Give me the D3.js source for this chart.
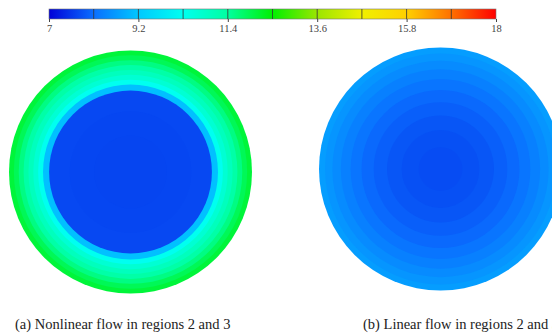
<!DOCTYPE html>
<html>
<head>
<meta charset="utf-8">
<script src="https://cdn.jsdelivr.net/npm/d3@7"></script>
<style>
  body { margin: 0; background: #fff; }
  svg { display: block; }
</style>
</head>
<body>
<div id="chart"></div>
<script>
// colour map of the legend (jet-like, 10 steps)
const colorStops = [7, 8.1, 9.2, 10.3, 11.4, 12.5, 13.6, 14.7, 15.8, 16.9, 18];
const colorValues = ["#0000d8", "#0a6eff", "#00c8ff", "#00fff0", "#00ffa0", "#00f000",
                     "#9be600", "#f0f000", "#ffd000", "#ff7000", "#ff0000"];
const tickLabels = [7, 9.2, 11.4, 13.6, 15.8, 18];

// radial bands: outer radius (fraction of circle radius) and value
const leftBandOuter = [1.00, 0.96, 0.92, 0.88, 0.84, 0.80, 0.76, 0.72, 0.67, 0.50, 0.30];
const leftBandValue = [12.1, 11.9, 11.6, 11.3, 11.0, 10.7, 10.3, 9.1, 7.72, 7.7, 7.69];

const rightBandOuter = [1.00, 0.95, 0.89, 0.82, 0.74, 0.65, 0.55, 0.44, 0.32, 0.18];
const rightBandValue = [8.68, 8.58, 8.45, 8.32, 8.18, 8.05, 7.95, 7.86, 7.8, 7.76];

const captions = ["(a) Nonlinear flow in regions 2 and 3", "(b) Linear flow in regions 2 and 3"];

function main() {
    const width = 552;
    const height = 336;

    const svg = d3.select("#chart")
        .append("svg")
        .attr("width", width)
        .attr("height", height);

    const color = d3.scaleLinear().domain(colorStops).range(colorValues);

    // colour bar
    const x = d3.scaleLinear().domain([7, 18]).range([49, 496]);
    const barTop = 9, barH = 10;

    const grad = svg.append("defs").append("linearGradient")
        .attr("id", "bar")
        .attr("x1", "0%").attr("x2", "100%");
    grad.selectAll("stop")
        .data(colorStops)
        .enter()
        .append("stop")
        .attr("offset", d => ((d - 7) / 11 * 100) + "%")
        .attr("stop-color", d => color(d));

    svg.append("rect")
        .attr("x", x(7)).attr("y", barTop)
        .attr("width", x(18) - x(7)).attr("height", barH)
        .attr("fill", "url(#bar)")
        .attr("stroke", "#777").attr("stroke-width", 0.6);

    svg.selectAll("line.div")
        .data(colorStops.slice(1, -1))
        .enter()
        .append("line")
        .attr("class", "div")
        .attr("x1", d => x(d)).attr("x2", d => x(d))
        .attr("y1", barTop).attr("y2", barTop + barH)
        .attr("stroke", "#333").attr("stroke-width", 0.8);

    const axis = d3.axisBottom(x)
        .tickValues(tickLabels)
        .tickSize(3)
        .tickPadding(3)
        .tickFormat(d => d);
    const ag = svg.append("g")
        .attr("transform", `translate(0,${barTop + barH})`)
        .call(axis);
    ag.select(".domain").remove();
    ag.selectAll("line").attr("stroke", "#444");
    ag.selectAll("text")
        .attr("fill", "#444")
        .style("font-family", "'Liberation Serif', 'DejaVu Serif', serif")
        .style("font-size", "10.5px");

    // circles
    const R = 121.5;
    const panels = [
        {cx: 130.5, cy: 172, outer: leftBandOuter, value: leftBandValue},
        {cx: 440.5, cy: 169, outer: rightBandOuter, value: rightBandValue}
    ];

    panels.forEach(p => {
        const g = svg.append("g");
        g.selectAll("circle")
            .data(p.outer.map((r, i) => ({r: r, v: p.value[i]})))
            .enter()
            .append("circle")
            .attr("cx", p.cx).attr("cy", p.cy)
            .attr("r", d => d.r * R)
            .attr("fill", d => color(d.v));
    });

    // captions
    svg.selectAll("text.cap")
        .data(captions)
        .enter()
        .append("text")
        .attr("class", "cap")
        .attr("x", (d, i) => i === 0 ? 15 : 363)
        .attr("y", 329)
        .attr("fill", "#222")
        .style("font-family", "'Liberation Serif', 'Times New Roman', serif")
        .style("font-size", "14.5px")
        .text(d => d);
}
main();
</script>
</body>
</html>
